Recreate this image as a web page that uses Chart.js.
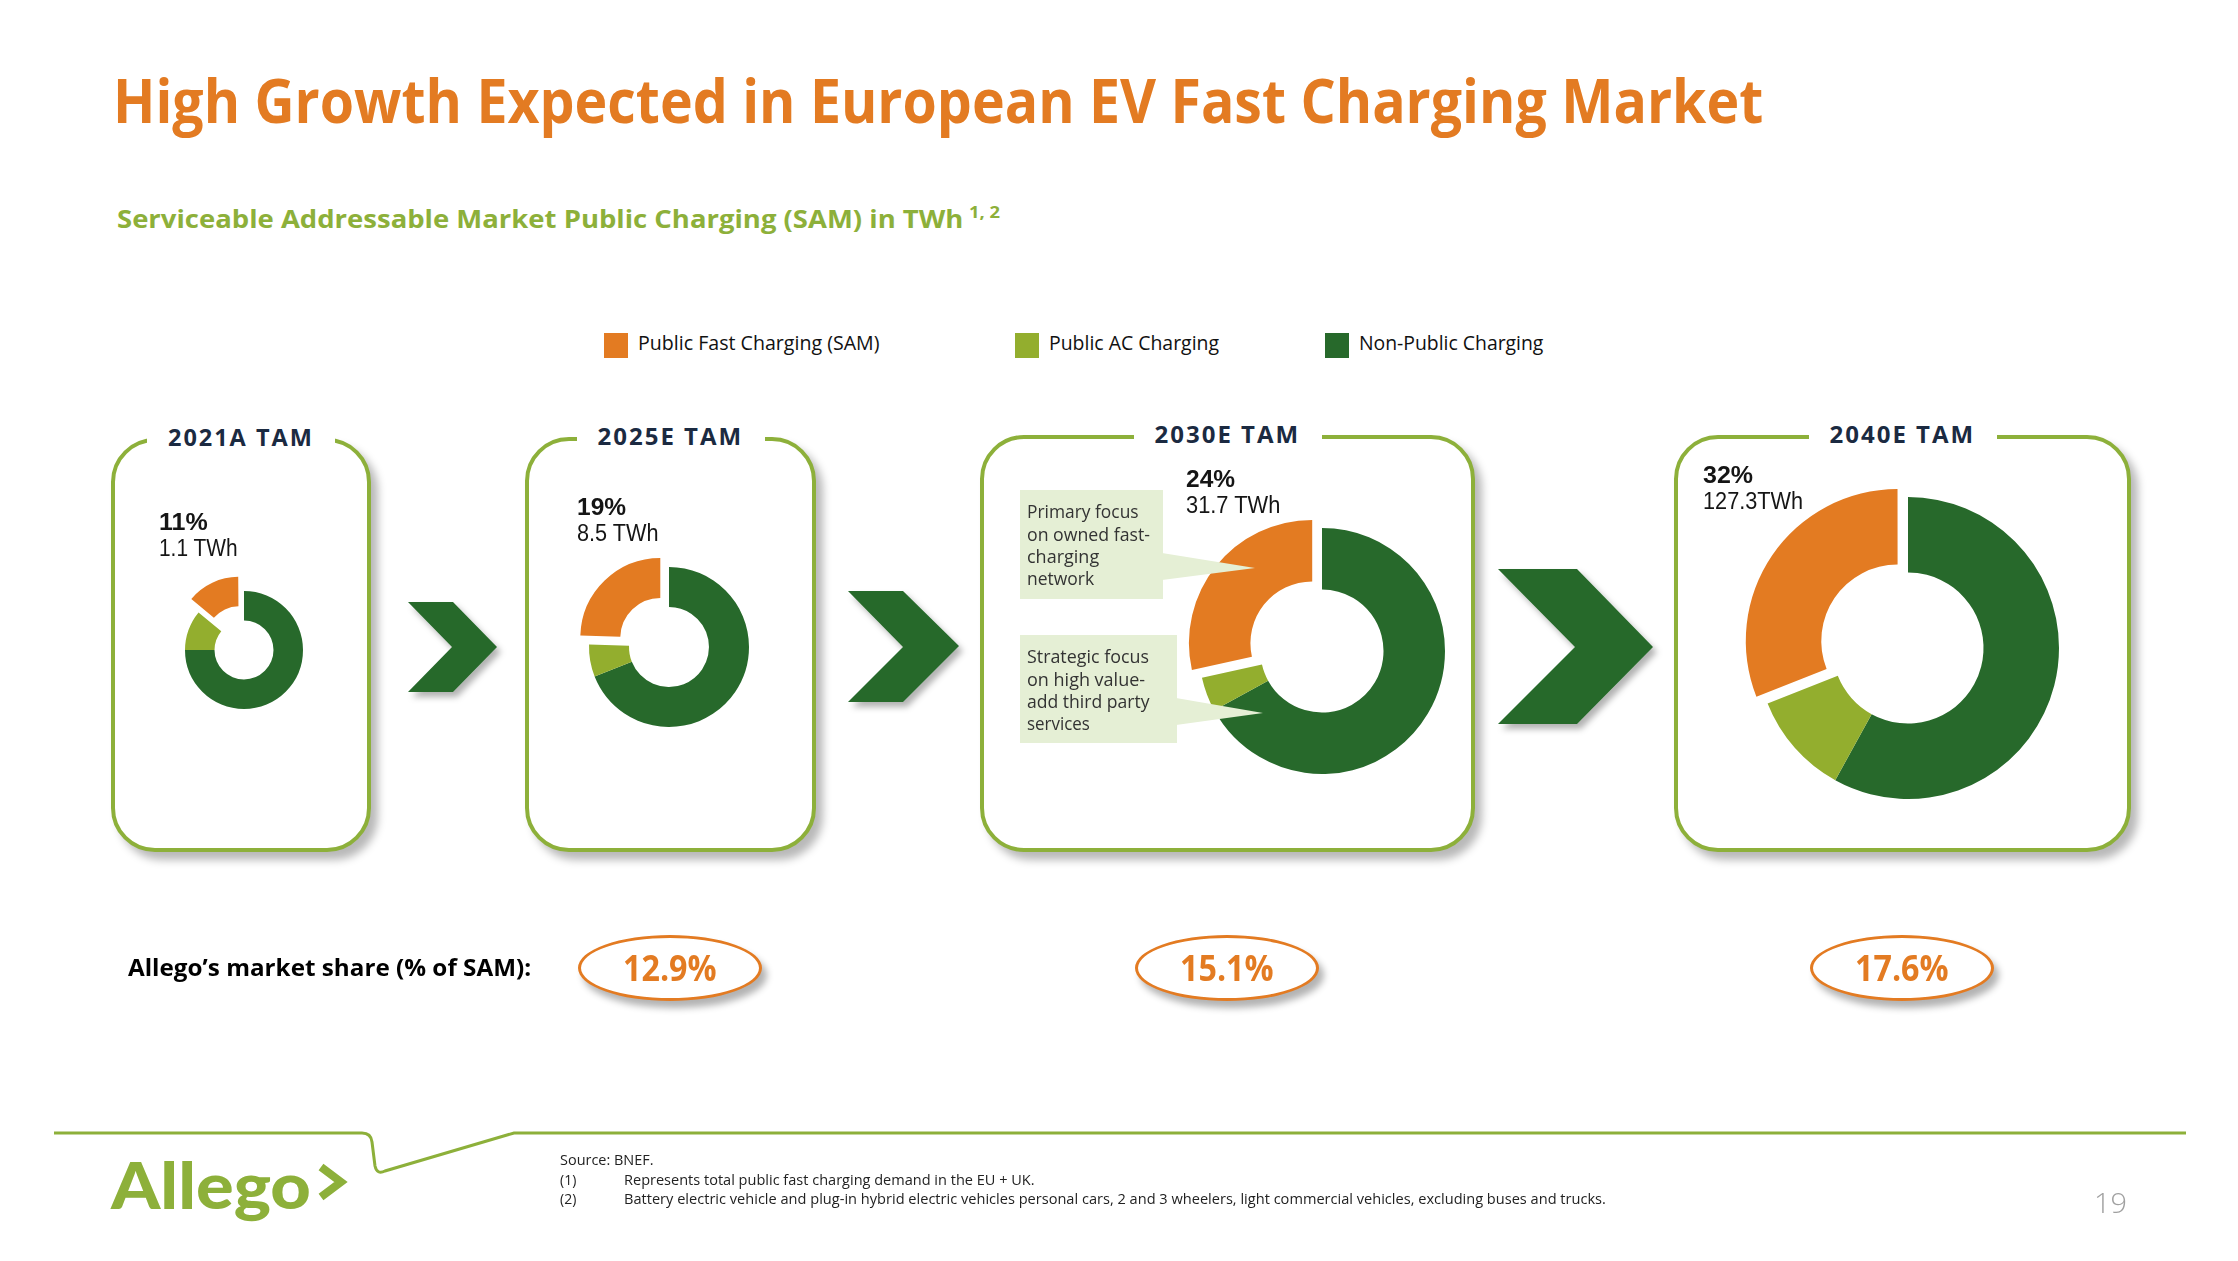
<!DOCTYPE html>
<html>
<head>
<meta charset="utf-8">
<title>High Growth Expected in European EV Fast Charging Market</title>
<script src="https://cdn.jsdelivr.net/npm/chart.js@4.4.1/dist/chart.umd.min.js"></script>
<style>
  html, body { margin: 0; padding: 0; background: #fff; }
  #slide { position: relative; width: 2238px; height: 1261px; overflow: hidden; font-family: "Open Sans", sans-serif; }
  .t { position: absolute; white-space: nowrap; transform-origin: 0 0; }
  .ln { display: block; white-space: nowrap; transform-origin: 0 0; width: max-content; }
  .box { position: absolute; box-sizing: border-box; border: 4px solid #8db03a; border-radius: 44px; background: #fff; box-shadow: 7px 8px 9px rgba(0,0,0,0.28); }
  .gap { position: absolute; background: #fff; height: 16px; }
  .oval { position: absolute; box-sizing: border-box; border: 3px solid #e37b22; border-radius: 50%; background: #fff; box-shadow: 5px 7px 7px rgba(0,0,0,0.3); }
  canvas, svg { position: absolute; }
</style>
</head>
<body>
<div id="slide"></div>
<script>
// chart data
var periods = ["2021A TAM", "2025E TAM", "2030E TAM", "2040E TAM"];
var segments = ["Public Fast Charging (SAM)", "Public AC Charging", "Non-Public Charging"];
var fastCharging = [14, 24.5, 28.5, 31];
var publicAC = [11, 6.5, 4.5, 11];
var nonPublic = [75, 69, 67, 58];
var samShare = ["11%", "19%", "24%", "32%"];
var samTWh = ["1.1 TWh", "8.5 TWh", "31.7 TWh", "127.3TWh"];
var allegoShare = ["12.9%", "15.1%", "17.6%"];

var ORANGE = "#e37b22", LIGHT = "#93ae2e", DARK = "#27692b", LINE = "#8db03a", NAVY = "#1b2a41";
var segColors = [ORANGE, LIGHT, DARK];

// layout of each panel (pixels)
var panels = [
  { box: [111, 438, 371, 852], cx: 243.5, cy: 649.5, r: 59, lx: 159, lb: 530, lw: [49, 79] },
  { box: [525, 437, 816, 852], cx: 668.5, cy: 646.5, r: 80, lx: 577, lb: 515, lw: [49, 82] },
  { box: [980, 435, 1475, 852], cx: 1322, cy: 650.5, r: 123, lx: 1186, lb: 487, lw: [49, 94] },
  { box: [1674, 435, 2131, 852], cx: 1907.5, cy: 647.5, r: 151, lx: 1703, lb: 483, lw: [50, 100] }
];

var slide = document.getElementById("slide");

function fit(el, w) {
  var w0 = el.offsetWidth;
  if (w && w0 > 0) el.style.transform = "scaleX(" + (w / w0) + ")";
}

function text(str, x, base, size, weight, color, w, family) {
  var el = document.createElement("div");
  el.className = "t";
  el.textContent = str;
  el.style.fontSize = size + "px";
  el.style.lineHeight = size + "px";
  el.style.fontWeight = weight;
  el.style.color = color;
  if (family) el.style.fontFamily = family;
  el.style.left = x + "px";
  el.style.top = (base - 0.888 * size) + "px";
  slide.appendChild(el);
  fit(el, w);
  return el;
}

// several lines in one text block; lines = [[str, size, weight, width], ...]
function block(lines, x, base, lh, color, family) {
  var el = document.createElement("div");
  el.className = "t";
  el.style.left = x + "px";
  el.style.top = (base - lh / 2 - 0.36 * lines[0][1]) + "px";
  el.style.color = color;
  if (family) el.style.fontFamily = family;
  slide.appendChild(el);
  lines.forEach(function (l) {
    var s = document.createElement("span");
    s.className = "ln";
    s.textContent = l[0];
    s.style.fontSize = l[1] + "px";
    s.style.fontWeight = l[2];
    s.style.lineHeight = lh + "px";
    s.style.height = lh + "px";
    el.appendChild(s);
    fit(s, l[3]);
  });
  return el;
}

function div(cls, x, y, w, h) {
  var el = document.createElement("div");
  el.className = cls;
  el.style.position = "absolute";
  el.style.left = x + "px"; el.style.top = y + "px";
  el.style.width = w + "px"; el.style.height = h + "px";
  slide.appendChild(el);
  return el;
}

// title + subtitle
text("High Growth Expected in European EV Fast Charging Market", 113, 123, 60, 700, ORANGE, 1650);
text("Serviceable Addressable Market Public Charging (SAM) in TWh", 117, 228, 25, 700, LINE, 846);
text("1, 2", 969, 218, 16, 700, LINE, 31);

// legend
var legX = [604, 1015, 1325], legW = [241, 170, 184];
for (var k = 0; k < segments.length; k++) {
  var sq = div("", legX[k], 333, 24, 25);
  sq.style.background = segColors[k];
  text(segments[k], legX[k] + 34, 351, 20, 400, "#111", legW[k]);
}

// panels
panels.forEach(function (p, i) {
  var b = p.box;
  div("box", b[0], b[1], b[2] - b[0], b[3] - b[1]);
  var mid = (b[0] + b[2]) / 2;
  div("gap", mid - 94, b[1] - 6, 188, 16);
  var tt = text(periods[i], mid - 73, b[1] + 8, 24, 700, NAVY);
  tt.style.letterSpacing = "2px";
  fit(tt, 146);

  var size = 2 * (p.r + 40);
  var cv = document.createElement("canvas");
  cv.width = size; cv.height = size;
  cv.style.left = (p.cx - size / 2) + "px";
  cv.style.top = (p.cy - size / 2) + "px";
  slide.appendChild(cv);
  new Chart(cv, {
    type: "doughnut",
    data: {
      labels: [segments[2], segments[1], segments[0]],
      datasets: [{
        data: [nonPublic[i], publicAC[i], fastCharging[i]],
        backgroundColor: [DARK, LIGHT, ORANGE],
        borderWidth: 0,
        offset: [0, 0, 50],
        radius: p.r,
        cutout: "50%"
      }]
    },
    options: {
      responsive: false,
      animation: false,
      events: [],
      layout: { padding: 0 },
      plugins: { legend: { display: false }, tooltip: { enabled: false } }
    }
  });

  // share and TWh label as one two-line text block
  block([[samShare[i], 24, 700, p.lw[0]], [samTWh[i], 23, 400, p.lw[1]]], p.lx, p.lb, 27, "#151515", "'Liberation Sans', sans-serif");
});

// callouts, arrows and footer line
var svgNS = "http://www.w3.org/2000/svg";
var over = document.createElementNS(svgNS, "svg");
over.setAttribute("width", 2238); over.setAttribute("height", 1261);
over.style.left = "0px"; over.style.top = "0px";
over.innerHTML =
  '<defs><filter id="sh" x="-20%" y="-20%" width="150%" height="150%">' +
  '<feDropShadow dx="4" dy="5" stdDeviation="3" flood-color="#000" flood-opacity="0.3"/></filter></defs>' +
  '<rect x="1020" y="490" width="143" height="109" fill="#e5efd5"/>' +
  '<polygon points="1162,553 1255,568 1162,580" fill="#e5efd5"/>' +
  '<rect x="1020" y="635" width="157" height="108" fill="#e5efd5"/>' +
  '<polygon points="1176,698 1263,713 1176,725" fill="#e5efd5"/>' +
  '<g fill="' + DARK + '" filter="url(#sh)">' +
  '<polygon points="408,602 453,602 497,647 453,692 408,692 452,647"/>' +
  '<polygon points="848,591 903,591 959,646 903,702 848,702 903,647"/>' +
  '<polygon points="1498,569 1577,569 1653,647 1577,724 1498,724 1575,647"/>' +
  '</g>' +
  '<path d="M54 1133 L362 1133 Q371 1133 372 1142 L375 1166 Q377 1175 385 1171 L514 1133 L2186 1133" fill="none" stroke="' + LINE + '" stroke-width="3"/>' +
  '<polyline points="321,1167 341,1182 321,1197" fill="none" stroke="' + LINE + '" stroke-width="8"/>';
slide.appendChild(over);

block([["Primary focus", 18, 400, 112], ["on owned fast-", 18, 400, 123], ["charging", 18, 400, 72], ["network", 18, 400, 67]], 1027, 518, 22.3, "#333");
block([["Strategic focus", 18, 400, 122], ["on high value-", 18, 400, 118], ["add third party", 18, 400, 123], ["services", 18, 400, 63]], 1027, 663, 22.3, "#333");

// Allego market share row
text("Allego\u2019s market share (% of SAM):", 128, 976, 24, 700, "#000", 403);
var ovalX = [670, 1227, 1902];
for (var m = 0; m < allegoShare.length; m++) {
  div("oval", ovalX[m] - 92, 935, 184, 66);
  text(allegoShare[m], ovalX[m] - 47, 981, 35, 700, ORANGE, 94);
}

// footer
text("Allego", 111, 1210, 65, 900, LINE, 200, "Lato, sans-serif");
block([["Source: BNEF.", 14, 400, 94], ["(1)", 14, 400, 16], ["(2)", 14, 400, 16]], 560, 1165, 19.5, "#222");
block([["Represents total public fast charging demand in the EU + UK.", 14, 400, 411],
       ["Battery electric vehicle and plug-in hybrid electric vehicles personal cars, 2 and 3 wheelers, light commercial vehicles, excluding buses and trucks.", 14, 400, 982]],
      624, 1184.5, 19.5, "#222");
text("19", 2094, 1213, 28, 300, "#a0a0a0", 33);
</script>
</body>
</html>
